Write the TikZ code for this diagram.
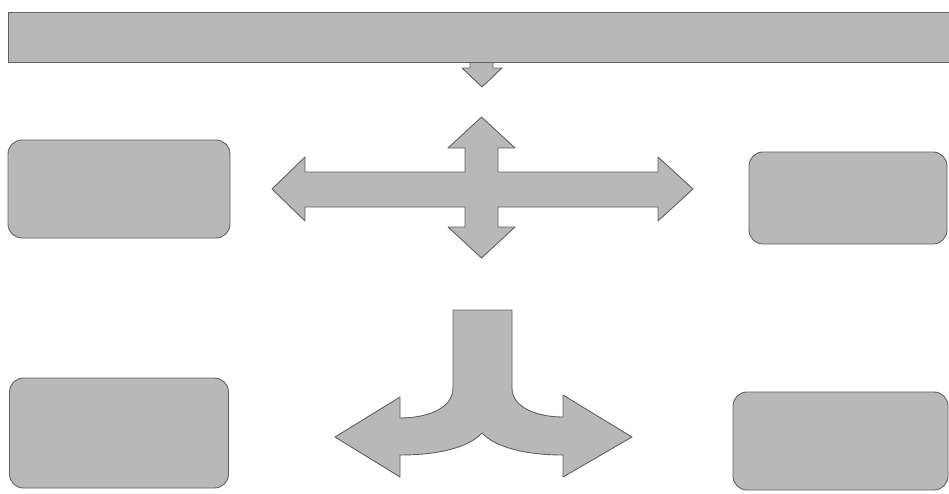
\documentclass[tikz,border=0pt]{standalone}
\usepackage{tikz}

\definecolor{shadegray}{gray}{0.72}
\definecolor{edgegray}{gray}{0.38}

\begin{document}
\begin{tikzpicture}[x=1pt, y=-1pt, line join=round,
		blockfill/.style={fill=shadegray, draw=edgegray, line width=0.9pt},
		panel/.style={blockfill, rounded corners=14pt, inner sep=0pt}]
	\useasboundingbox (0,0) rectangle (949,493);
	
	% === 顶部横条与向下小箭头 ===
	\draw[blockfill] (470,60) -- (493,60) -- (493,68) -- (502,68) -- (482,87) -- (462,68) -- (470,68) -- cycle;
	\draw[blockfill] (8,12) rectangle (960,62);
	
	% === 四个圆角框 ===
	\node[panel, minimum width=222pt, minimum height=98pt] (leftTop) at (119,189) {};
	\node[panel, minimum width=198pt, minimum height=92pt] (rightTop) at (848,198) {};
	\node[panel, minimum width=219pt, minimum height=110pt] (leftBottom) at (119,433) {};
	\node[panel, minimum width=215pt, minimum height=98pt] (rightBottom) at (840.5,441) {};
	
	% === 十字双向箭头 ===
	\draw[blockfill] (272,189) -- (305,157) -- (305,172) -- (465,172) -- (465,148) -- (448,148)
		-- (481.5,117) -- (515,148) -- (498,148) -- (498,172) -- (658,172) -- (658,157)
		-- (693,189) -- (658,221) -- (658,207) -- (498,207) -- (498,227) -- (515,227)
		-- (481.5,258) -- (448,227) -- (465,227) -- (465,207) -- (305,207) -- (305,221) -- cycle;
	
	% === 分叉弯箭头 ===
	\draw[blockfill] (453,310) -- (512,310) -- (512,388)
		.. controls (512,408) and (538,417) .. (563,417) -- (563,395) -- (632,437) -- (563,477) -- (563,455)
		.. controls (525,455) and (495,447) .. (482,433)
		.. controls (469,447) and (440,455) .. (400,455) -- (400,477) -- (335,437) -- (400,397) -- (400,418)
		.. controls (426,418) and (453,409) .. (453,388) -- cycle;
\end{tikzpicture}
\end{document}
